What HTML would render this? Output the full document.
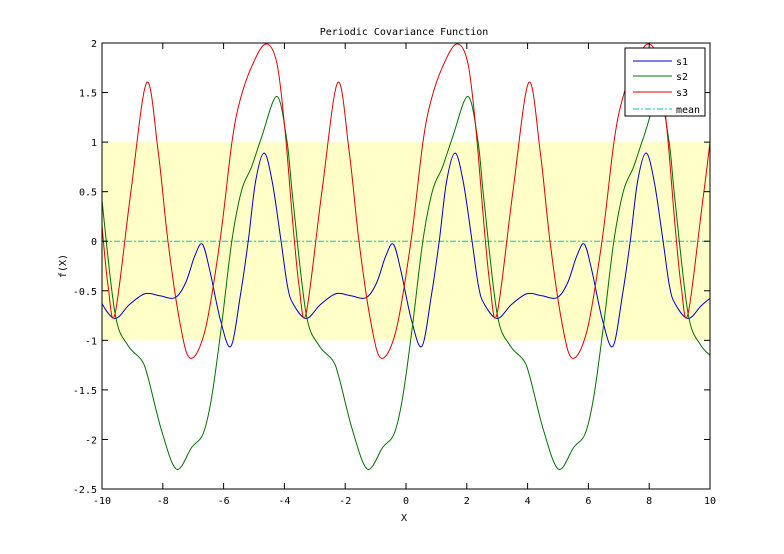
<!DOCTYPE html>
<html><head><meta charset="utf-8"><style>
body{margin:0;background:#fff;}
svg text{font-family:"DejaVu Sans Mono","Liberation Mono",monospace;font-size:10px;fill:#000;}
</style></head><body>
<svg id="chart" width="784" height="549">
<rect width="784" height="549" fill="#fff"/>
<g id="plot"></g>
</svg>
<script>
const xTicks=[-10,-8,-6,-4,-2,0,2,4,6,8,10];
const yTicks=[2,1.5,1,0.5,0,-0.5,-1,-1.5,-2,-2.5];
const period=6.2832;
const s1X=[-10,-9.57,-9.1,-8.59,-8.1,-7.6,-7.25,-6.95,-6.7,-6.45,-6.1,-5.76,-5.45,-5.19,-4.95,-4.67,-4.4,-4.11,-3.9];
const s1Y=[-0.63,-0.78,-0.64,-0.53,-0.55,-0.57,-0.42,-0.15,-0.03,-0.3,-0.8,-1.06,-0.55,0,0.6,0.89,0.6,0,-0.45];
const s2X=[-10,-9.57,-9.15,-8.7,-8.49,-8.04,-7.55,-7.05,-6.67,-6.39,-6.06,-5.73,-5.41,-5.08,-4.75,-4.25,-3.92];
const s2Y=[0.41,-0.73,-1.05,-1.2,-1.37,-1.91,-2.3,-2.08,-1.94,-1.57,-0.83,0,0.51,0.75,1.05,1.46,1.02];
const s3X=[-10,-9.8,-9.57,-9.05,-8.53,-8.15,-7.83,-7.45,-7.1,-6.61,-6.12,-5.73,-5.46,-5.08,-4.62,-4.25,-3.98];
const s3Y=[0.16,-0.45,-0.73,0.5,1.6,0.9,0,-0.8,-1.18,-0.9,0,0.99,1.42,1.76,1.99,1.8,1.12];
const meanY=[0];
const bandLow=-1, bandHigh=1;
const X0=102,X1=710,Y0=43,Y1=489,xmin=-10,xmax=10,ymin=-2.5,ymax=2;
const sx=v=>X0+(v-xmin)/(xmax-xmin)*(X1-X0);
const sy=v=>Y1-(v-ymin)/(ymax-ymin)*(Y1-Y0);
const NS='http://www.w3.org/2000/svg';
const g=document.getElementById('plot');
function mk(t,a,p){const e=document.createElementNS(NS,t);for(const k in a)e.setAttribute(k,a[k]);(p||g).appendChild(e);return e;}
const cp=mk('clipPath',{id:'cp'});mk('rect',{x:X0,y:Y0,width:X1-X0,height:Y1-Y0},cp);
const band=mk('rect',{x:X0,y:sy(bandHigh),width:X1-X0,height:sy(bandLow)-sy(bandHigh),fill:'#ffffc8'});


function tile(xs,ys){const px=[],py=[];for(let k=-1;k<=4;k++){for(let i=0;i<xs.length;i++){px.push(xs[i]+k*period);py.push(ys[i]);}}return [px,py];}
function curve(xs,ys,color,name){
 const [px,py]=tile(xs,ys);const P=px.map((x,i)=>[sx(x),sy(py[i])]);
 let d='M'+P[0][0]+','+P[0][1];
 for(let i=0;i<P.length-1;i++){const p0=P[Math.max(0,i-1)],p1=P[i],p2=P[i+1],p3=P[Math.min(P.length-1,i+2)];
  d+=' C'+(p1[0]+(p2[0]-p0[0])/6)+','+(p1[1]+(p2[1]-p0[1])/6)+' '+(p2[0]-(p3[0]-p1[0])/6)+','+(p2[1]-(p3[1]-p1[1])/6)+' '+p2[0]+','+p2[1];}
 const e=mk('path',{d:d,fill:'none',stroke:color,'stroke-width':1,'clip-path':'url(#cp)'});
 
 
}
const ml=mk('line',{x1:X0,x2:X1,y1:sy(meanY[0]),y2:sy(meanY[0]),stroke:'#00c8c8','stroke-dasharray':'6,2,2,2'});


curve(s1X,s1Y,'#0000c8','series-s1');
curve(s2X,s2Y,'#007000','series-s2');
curve(s3X,s3Y,'#e00000','series-s3');
const box=mk('rect',{x:X0,y:Y0,width:X1-X0,height:Y1-Y0,fill:'none',stroke:'#000'});


xTicks.forEach(v=>{const x=sx(v);mk('line',{x1:x,x2:x,y1:Y1,y2:Y1-6,stroke:'#000'});mk('line',{x1:x,x2:x,y1:Y0,y2:Y0+6,stroke:'#000'});
 const t=mk('text',{x:x,y:Y1+15,'text-anchor':'middle'});t.textContent=v;
 
 });
yTicks.forEach(v=>{const y=sy(v);mk('line',{x1:X0,x2:X0+6,y1:y,y2:y,stroke:'#000'});mk('line',{x1:X1,x2:X1-6,y1:y,y2:y,stroke:'#000'});
 const t=mk('text',{x:X0-5,y:y+4,'text-anchor':'end'});t.textContent=v;
 
 });
const ti=mk('text',{x:404,y:35,'text-anchor':'middle'});ti.textContent='Periodic Covariance Function';


const xl=mk('text',{x:404,y:521,'text-anchor':'middle'});xl.textContent='X';


const yl=mk('text',{x:66,y:266,'text-anchor':'middle',transform:'rotate(-90 66 266)'});yl.textContent='f(X)';


const lg=mk('g',{});


mk('rect',{x:625,y:48,width:80,height:68,fill:'#fff',stroke:'#000'},lg);
[['s1','#0000c8',61,''],['s2','#007000',76,''],['s3','#e00000',92,''],['mean','#00c8c8',109,'6,2,2,2']].forEach(r=>{
 const l=mk('line',{x1:633,x2:672,y1:r[2],y2:r[2],stroke:r[1],'stroke-dasharray':r[3]||'none'},lg);
 
 
 const t=mk('text',{x:676,y:r[2]+4},lg);t.textContent=r[0];
 
 });
</script>
</body></html>
